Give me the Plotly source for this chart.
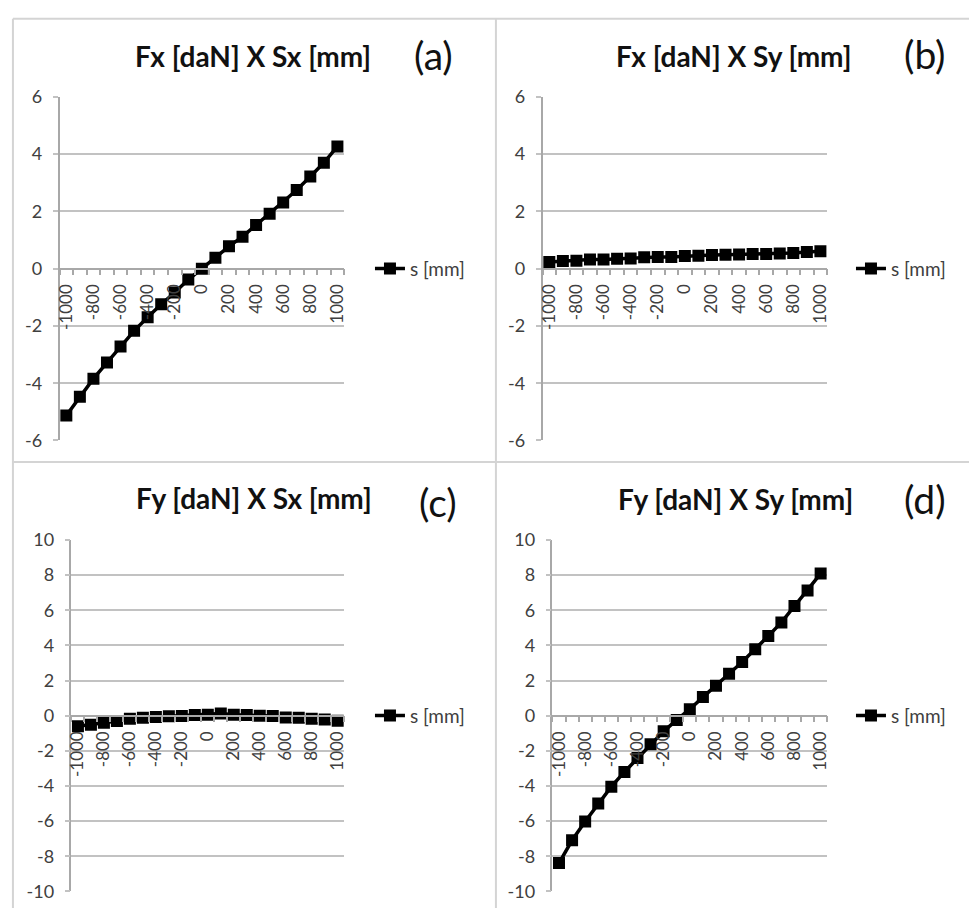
import plotly.graph_objects as go

# ---------------- data ----------------
s_mm = [-1000, -900, -800, -700, -600, -500, -400, -300, -200, -100, 0,
        100, 200, 300, 400, 500, 600, 700, 800, 900, 1000]

fx_sx = [-5.13, -4.47, -3.84, -3.28, -2.72, -2.17, -1.70, -1.24, -0.83, -0.38, 0.00,
         0.38, 0.78, 1.12, 1.53, 1.92, 2.31, 2.75, 3.22, 3.70, 4.27]
fx_sy = [0.23, 0.27, 0.28, 0.32, 0.32, 0.35, 0.36, 0.40, 0.41, 0.41, 0.44,
         0.45, 0.48, 0.49, 0.50, 0.51, 0.51, 0.53, 0.55, 0.58, 0.61]
fy_sx = [-0.60, -0.52, -0.40, -0.30, -0.17, -0.12, -0.08, -0.03, -0.02, 0.04, 0.05,
         0.12, 0.05, 0.04, 0.00, -0.02, -0.10, -0.12, -0.17, -0.22, -0.28]
fy_sy = [-8.39, -7.09, -6.02, -5.00, -4.04, -3.20, -2.41, -1.63, -0.89, -0.24, 0.37,
         1.06, 1.70, 2.39, 3.06, 3.78, 4.54, 5.31, 6.24, 7.13, 8.09]

x_tick_vals = [-1000, -800, -600, -400, -200, 0, 200, 400, 600, 800, 1000]
x_tick_text = ["-1000", "-800", "-600", "-400", "-200", "0", "200", "400", "600", "800", "1000"]
y_ticks_top = [-6, -4, -2, 0, 2, 4, 6]
y_ticks_top_text = ["-6", "-4", "-2", "0", "2", "4", "6"]
y_ticks_bot = [-10, -8, -6, -4, -2, 0, 2, 4, 6, 8, 10]
y_ticks_bot_text = ["-10", "-8", "-6", "-4", "-2", "0", "2", "4", "6", "8", "10"]

titles = ["Fx [daN] X Sx [mm]", "Fx [daN] X Sy [mm]", "Fy [daN] X Sx [mm]", "Fy [daN] X Sy [mm]"]
letters = ["(a)", "(b)", "(c)", "(d)"]
series_name = "s [mm]"

# ---------------- layout geometry ----------------
W, H = 972, 918
FONT = "Lato"
GREY_TXT = "#404040"
GRID = "#c2c2c2"
AXIS = "#a8a8a8"

panels = [
    dict(y=fx_sx, xd=[55, 342], yd=[87, 439], yt=y_ticks_top, ytt=y_ticks_top_text, yr=[-6, 6],
         tx=250, ty=45, lx=432, ly=44, legx=368),
    dict(y=fx_sy, xd=[542, 829], yd=[87, 439], yt=y_ticks_top, ytt=y_ticks_top_text, yr=[-6, 6],
         tx=735, ty=45, lx=928, ly=43, legx=853),
    dict(y=fy_sx, xd=[67, 342], yd=[541, 901], yt=y_ticks_bot, ytt=y_ticks_bot_text, yr=[-10, 10],
         tx=251, ty=498, lx=437, ly=502, legx=368),
    dict(y=fy_sy, xd=[552, 829], yd=[541, 901], yt=y_ticks_bot, ytt=y_ticks_bot_text, yr=[-10, 10],
         tx=737, ty=499, lx=928, ly=499, legx=853),
]

fig = go.Figure()
annotations = []
layout_upd = {}

for i, p in enumerate(panels):
    n = "" if i == 0 else str(i + 1)
    leg = "legend" if i == 0 else "legend" + str(i + 1)
    fig.add_trace(go.Scatter(
        x=s_mm, y=p["y"], mode="lines+markers", name=series_name,
        line=dict(color="black", width=3.5),
        marker=dict(symbol="square", size=12, color="black"),
        xaxis="x" + n, yaxis="y" + n, legend=leg, showlegend=True,
    ))
    xd = [p["xd"][0] / W, p["xd"][1] / W]
    yd = [1 - p["yd"][1] / H, 1 - p["yd"][0] / H]
    ymid = (yd[0] + yd[1]) / 2
    layout_upd["xaxis" + n] = dict(
        domain=xd, range=[-1050, 1050], anchor="free", position=ymid,
        tickmode="array", tickvals=x_tick_vals, ticktext=x_tick_text,
        tickangle=-90, ticks="", showgrid=False, zeroline=False,
        showline=True, linecolor=AXIS, linewidth=1.5,
        tickfont=dict(family=FONT, size=17, color=GREY_TXT),
        ticklabelstandoff=8,
        minor=dict(tickmode="linear", tick0=-1050, dtick=100, ticks="outside",
                   ticklen=6, tickcolor=AXIS, tickwidth=1.5, showgrid=False),
    )
    layout_upd["yaxis" + n] = dict(
        domain=yd, range=p["yr"], anchor="x" + n,
        tickmode="array", tickvals=p["yt"], ticktext=p["ytt"],
        ticks="outside", ticklen=5, tickcolor=GRID, tickwidth=1.5,
        showgrid=True, gridcolor=GRID, gridwidth=1.5, zeroline=False,
        showline=True, linecolor=AXIS, linewidth=1.5,
        tickfont=dict(family=FONT, size=18, color=GREY_TXT),
        ticklabelstandoff=7,
    )
    layout_upd[leg] = dict(
        x=p["legx"] / W, y=ymid, xanchor="left", yanchor="middle",
        bgcolor="rgba(0,0,0,0)", borderwidth=0, itemwidth=30,
        font=dict(family=FONT, size=19, color=GREY_TXT),
    )
    annotations.append(dict(
        text=titles[i], x=p["tx"] / W, y=1 - p["ty"] / H, xref="paper", yref="paper",
        xanchor="center", yanchor="middle", showarrow=False,
        font=dict(family=FONT, size=28, color="#111111", weight="bold"),
    ))
    annotations.append(dict(
        text=letters[i], x=p["lx"] / W, y=1 - p["ly"] / H, xref="paper", yref="paper",
        xanchor="center", yanchor="middle", showarrow=False,
        font=dict(family=FONT, size=39, color="#111111"),
    ))

BORDER = "#d4d4d4"
shapes = [
    dict(type="line", xref="paper", yref="paper", x0=8 / W, x1=1, y0=1 - 7 / H, y1=1 - 7 / H,
         line=dict(color=BORDER, width=2)),
    dict(type="line", xref="paper", yref="paper", x0=8 / W, x1=8 / W, y0=0, y1=1 - 7 / H,
         line=dict(color=BORDER, width=2)),
    dict(type="line", xref="paper", yref="paper", x0=495 / W, x1=495 / W, y0=0, y1=1 - 7 / H,
         line=dict(color=BORDER, width=2)),
    dict(type="line", xref="paper", yref="paper", x0=8 / W, x1=1, y0=1 - 461 / H, y1=1 - 461 / H,
         line=dict(color=BORDER, width=2)),
]

fig.update_layout(
    width=W, height=H, margin=dict(l=0, r=0, t=0, b=0),
    paper_bgcolor="white", plot_bgcolor="white",
    annotations=annotations, shapes=shapes,
    font=dict(family=FONT),
    **layout_upd,
)

fig.write_html("out.html")
